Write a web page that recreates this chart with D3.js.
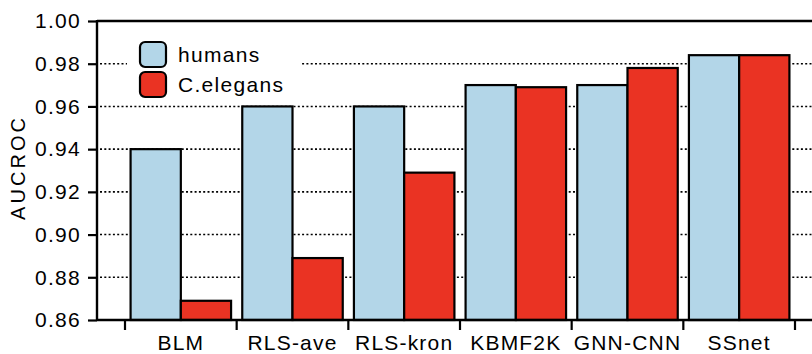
<!DOCTYPE html>
<html>
<head>
<meta charset="utf-8">
<script src="https://cdn.jsdelivr.net/npm/d3@7"></script>
<style>
  body { margin: 0; background: #fff; }
  text { font-family: "Liberation Sans", Arial, Helvetica, sans-serif; fill: #000; }
</style>
</head>
<body>
<script>
"use strict";

const categories = ["BLM", "RLS-ave", "RLS-kron", "KBMF2K", "GNN-CNN", "SSnet"];
const series = ["humans", "C.elegans"];
const humans = [0.940, 0.960, 0.960, 0.970, 0.970, 0.984];
const elegans = [0.869, 0.889, 0.929, 0.969, 0.978, 0.984];
const yTicks = [0.86, 0.88, 0.90, 0.92, 0.94, 0.96, 0.98, 1.00];
const gridTicks = [0.88, 0.90, 0.92, 0.94, 0.96, 0.98];
const colors = ["#b3d6e8", "#ea3323"];

const width = 812, height = 354;
const plotLeft = 97, plotTop = 21, plotBottom = 320;

const svg = d3.select("body").append("svg")
    .attr("width", width)
    .attr("height", height);

const y = d3.scaleLinear()
    .domain([0.86, 1.00])
    .range([plotBottom, plotTop]);

const x = d3.scaleBand()
    .domain(categories)
    .range([125, 795]);

const bw = x.bandwidth();
const x1 = d3.scaleBand()
    .domain(series)
    .range([bw * 0.05, bw * 0.95]);

// dotted grid
svg.append("g")
    .selectAll("line")
    .data(gridTicks)
    .join("line")
    .attr("x1", plotLeft + 3)
    .attr("x2", width)
    .attr("y1", d => y(d))
    .attr("y2", d => y(d))
    .attr("stroke", "#000")
    .attr("stroke-width", 1.6)
    .attr("stroke-dasharray", "2,2.3");

// legend background covers the grid
svg.append("rect")
    .attr("x", 127).attr("y", 30)
    .attr("width", 173).attr("height", 72)
    .attr("fill", "#fff");

// bars
const rows = categories.map((c, i) => ({cat: c, values: [humans[i], elegans[i]]}));
const groups = svg.append("g")
    .selectAll("g")
    .data(rows)
    .join("g")
    .attr("transform", d => "translate(" + x(d.cat) + ",0)");

groups.selectAll("rect")
    .data(d => d.values.map((v, j) => ({key: series[j], value: v, j: j})))
    .join("rect")
    .attr("x", d => x1(d.key))
    .attr("y", d => y(d.value))
    .attr("width", x1.bandwidth())
    .attr("height", d => y(0.86) - y(d.value))
    .attr("fill", d => colors[d.j])
    .attr("stroke", "#000")
    .attr("stroke-width", 2.2);

// y axis
const yAxis = svg.append("g")
    .attr("transform", "translate(" + plotLeft + ",0)")
    .call(d3.axisLeft(y).tickValues(yTicks).tickFormat(d3.format(".2f"))
        .tickSize(9).tickPadding(7));
yAxis.select(".domain").remove();
yAxis.selectAll(".tick line").attr("stroke-width", 2.2);
yAxis.selectAll("text")
    .style("font-size", "21px")
    .style("letter-spacing", "1.3px");

svg.append("line")
    .attr("x1", plotLeft).attr("x2", plotLeft)
    .attr("y1", plotTop - 1).attr("y2", plotBottom + 1)
    .attr("stroke", "#000").attr("stroke-width", 2.4);

// top spine
svg.append("line")
    .attr("x1", plotLeft).attr("x2", width)
    .attr("y1", plotTop).attr("y2", plotTop)
    .attr("stroke", "#000").attr("stroke-width", 2.4);

// x axis
const xAxis = svg.append("g")
    .attr("transform", "translate(0," + plotBottom + ")")
    .call(d3.axisBottom(x).tickSize(0).tickPadding(15));
xAxis.select(".domain").remove();
xAxis.selectAll("text")
    .style("font-size", "21px")
    .style("letter-spacing", "1.2px");

svg.append("line")
    .attr("x1", plotLeft).attr("x2", width)
    .attr("y1", plotBottom).attr("y2", plotBottom)
    .attr("stroke", "#000").attr("stroke-width", 2.4);

const bounds = categories.map(c => x(c)).concat([x(categories[categories.length - 1]) + bw]);
svg.append("g")
    .selectAll("line")
    .data(bounds)
    .join("line")
    .attr("x1", d => d).attr("x2", d => d)
    .attr("y1", plotBottom).attr("y2", plotBottom + 10)
    .attr("stroke", "#000").attr("stroke-width", 2.2);

// y label
svg.append("text")
    .attr("transform", "translate(25,169) rotate(-90)")
    .attr("text-anchor", "middle")
    .attr("textLength", 102)
    .attr("lengthAdjust", "spacing")
    .style("font-size", "20px")
    .text("AUCROC");

// legend
const legend = svg.append("g")
    .selectAll("g")
    .data(series)
    .join("g")
    .attr("transform", (d, i) => "translate(140," + (42 + i * 30) + ")");

legend.append("rect")
    .attr("width", 26).attr("height", 25)
    .attr("rx", 5).attr("ry", 5)
    .attr("fill", (d, i) => colors[i])
    .attr("stroke", "#000")
    .attr("stroke-width", 2.2);

legend.append("text")
    .attr("x", 38)
    .attr("y", 12.5)
    .attr("dy", "0.35em")
    .style("font-size", "21px")
    .style("letter-spacing", "1.3px")
    .text(d => d);
</script>
</body>
</html>
